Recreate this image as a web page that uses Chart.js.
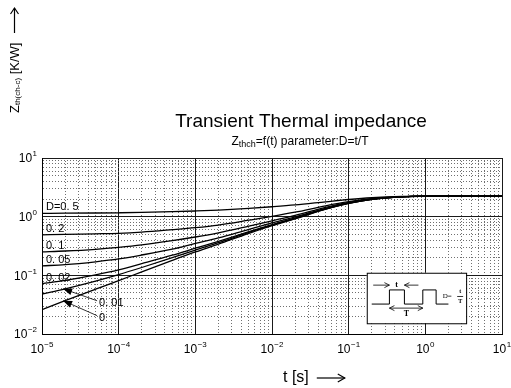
<!DOCTYPE html>
<html>
<head>
<meta charset="utf-8">
<script src="https://cdn.jsdelivr.net/npm/chart.js@4.4.1/dist/chart.umd.min.js"></script>
<style>
html, body { margin: 0; padding: 0; background: #fff; }
</style>
</head>
<body>
<canvas id="zth_chart" width="511" height="388"></canvas>
<script>
// pulse width t [s]
const times = [1e-5, 2e-5, 5e-5, 1e-4, 2e-4, 5e-4, 1e-3, 2e-3, 5e-3, 1e-2, 2e-2, 5e-2, 1e-1, 2e-1, 5e-1, 1, 2, 10];

// Zth(ch-c) [K/W], one array per duty cycle
const zthD05  = [1.14, 1.145, 1.155, 1.165, 1.18, 1.215, 1.25, 1.295, 1.385, 1.475, 1.585, 1.79, 1.96, 2.10, 2.21, 2.24, 2.25, 2.25];
const zthD02  = [0.49, 0.50, 0.51, 0.52, 0.545, 0.60, 0.65, 0.72, 0.87, 1.01, 1.19, 1.53, 1.80, 2.03, 2.19, 2.24, 2.25, 2.25];
const zthD01  = [0.252, 0.26, 0.278, 0.30, 0.33, 0.39, 0.45, 0.53, 0.69, 0.85, 1.05, 1.44, 1.75, 2.00, 2.19, 2.24, 2.25, 2.25];
const zthD005 = [0.145, 0.152, 0.17, 0.19, 0.222, 0.28, 0.35, 0.435, 0.61, 0.78, 0.99, 1.39, 1.72, 1.99, 2.18, 2.24, 2.25, 2.25];
const zthD002 = [0.072, 0.082, 0.102, 0.124, 0.158, 0.22, 0.29, 0.38, 0.555, 0.73, 0.95, 1.36, 1.70, 1.98, 2.18, 2.24, 2.25, 2.25];
const zthD001 = [0.048, 0.059, 0.080, 0.103, 0.136, 0.20, 0.27, 0.36, 0.54, 0.72, 0.93, 1.35, 1.69, 1.97, 2.18, 2.24, 2.25, 2.25];
const zthD0   = [0.026, 0.037, 0.058, 0.081, 0.115, 0.18, 0.25, 0.34, 0.52, 0.70, 0.92, 1.34, 1.68, 1.97, 2.18, 2.24, 2.25, 2.25];

const dutyLabels = ['D=0. 5', '0. 2', '0. 1', '0. 05', '0. 02', '0. 01', '0'];
const dutySeries = [zthD05, zthD02, zthD01, zthD005, zthD002, zthD001, zthD0];

// decade exponents for the tick labels, and the 1..9 steps of the log paper
const xTickExps = [-5, -4, -3, -2, -1, 0, 1];
const yTickExps = [-2, -1, 0, 1];
const minorSteps = [1, 2, 3, 4, 5, 6, 7, 8, 9];

const FONT = '"Liberation Sans", Arial, sans-serif';

function logTicks(exps) {
    const out = [];
    exps.forEach((e, i) => {
        if (i === exps.length - 1) {
            out.push({ value: Math.pow(10, e) });
            return;
        }
        minorSteps.forEach(m => out.push({ value: m * Math.pow(10, e) }));
    });
    return out;
}

function isMajor(v) {
    const l = Math.log10(v);
    return Math.abs(l - Math.round(l)) < 1e-6;
}

const gridOpts = {
    drawTicks: false,
    color: ctx => (ctx.tick && isMajor(ctx.tick.value)) ? '#1a1a1a' : '#6f6f6f',
    lineWidth: 1
};
const borderOpts = {
    display: true,
    color: '#000',
    width: 1,
    dash: ctx => (ctx.tick && !isMajor(ctx.tick.value)) ? [1, 2] : []
};

// "10" with a raised exponent
function drawPow(ctx, x, y, exp, align) {
    ctx.save();
    ctx.textBaseline = 'middle';
    ctx.textAlign = 'left';
    ctx.font = '12px ' + FONT;
    const base = '10';
    const bw = ctx.measureText(base).width;
    ctx.font = '8px ' + FONT;
    const es = exp < 0 ? '\u2212' + Math.abs(exp) : String(exp);
    const ew = ctx.measureText(es).width;
    const total = bw + ew + 0.5;
    let x0 = x;
    if (align === 'center') x0 = x - total / 2;
    if (align === 'right') x0 = x - total;
    ctx.fillStyle = '#000';
    ctx.font = '12px ' + FONT;
    ctx.fillText(base, x0, y);
    ctx.font = '8px ' + FONT;
    ctx.fillText(es, x0 + bw + 0.5, y - 5);
    ctx.restore();
}

function arrowHead(ctx, fromX, fromY, toX, toY, len, half, filled) {
    const a = Math.atan2(toY - fromY, toX - fromX);
    ctx.beginPath();
    ctx.moveTo(toX - len * Math.cos(a) + half * Math.sin(a), toY - len * Math.sin(a) - half * Math.cos(a));
    ctx.lineTo(toX, toY);
    ctx.lineTo(toX - len * Math.cos(a) - half * Math.sin(a), toY - len * Math.sin(a) + half * Math.cos(a));
    if (filled) {
        ctx.closePath();
        ctx.fill();
    } else {
        ctx.stroke();
    }
}

const textPlugin = {
    id: 'zthText',
    afterDraw(chart) {
        const ctx = chart.ctx;
        const area = chart.chartArea;
        const xs = chart.scales.x;
        const ys = chart.scales.y;
        ctx.save();
        ctx.fillStyle = '#000';
        ctx.strokeStyle = '#000';

        // tick labels
        xTickExps.forEach(e => drawPow(ctx, xs.getPixelForValue(Math.pow(10, e)), area.bottom + 16, e, 'center'));
        yTickExps.forEach(e => drawPow(ctx, area.left - 5, ys.getPixelForValue(Math.pow(10, e)) + 1, e, 'right'));

        // title + subtitle
        ctx.textAlign = 'center';
        ctx.textBaseline = 'middle';
        ctx.font = '19px ' + FONT;
        ctx.fillText('Transient Thermal impedance', 301, 122);

        ctx.textAlign = 'left';
        ctx.font = '12px ' + FONT;
        const s1 = 'Z', s3 = '=f(t) parameter:D=t/T';
        const w1 = ctx.measureText(s1).width, w3 = ctx.measureText(s3).width;
        ctx.font = '9px ' + FONT;
        const s2 = 'thch';
        const w2 = ctx.measureText(s2).width;
        let sx = 300 - (w1 + w2 + w3) / 2;
        ctx.font = '12px ' + FONT;
        ctx.fillText(s1, sx, 142);
        ctx.fillStyle = '#000';
        ctx.font = '9px ' + FONT;
        ctx.fillText(s2, sx + w1, 145);
        ctx.font = '12px ' + FONT;
        ctx.fillText(s3, sx + w1 + w2, 142);

        // y axis title, rotated
        ctx.save();
        ctx.translate(15, 113);
        ctx.rotate(-Math.PI / 2);
        ctx.textBaseline = 'middle';
        ctx.font = '13px ' + FONT;
        ctx.fillText('Z', 0, 0);
        let yw = ctx.measureText('Z').width;
        ctx.font = '8px ' + FONT;
        ctx.fillText('th(ch-c)', yw, 3);
        yw += ctx.measureText('th(ch-c)').width;
        ctx.font = '13px ' + FONT;
        ctx.fillText(' [K/W]', yw, 0);
        ctx.restore();

        ctx.lineWidth = 1.2;
        ctx.beginPath();
        ctx.moveTo(14.5, 33);
        ctx.lineTo(14.5, 8);
        ctx.stroke();
        arrowHead(ctx, 14.5, 33, 14.5, 8, 6, 4, false);

        // x axis title
        ctx.font = '16px ' + FONT;
        ctx.textBaseline = 'middle';
        ctx.fillText('t [s]', 283, 378);
        const tw = ctx.measureText('t [s]').width;
        ctx.beginPath();
        ctx.moveTo(283 + tw + 8, 378);
        ctx.lineTo(283 + tw + 36, 378);
        ctx.stroke();
        arrowHead(ctx, 283 + tw + 8, 378, 283 + tw + 36, 378, 7, 4, false);

        // curve labels
        ctx.font = '11px ' + FONT;
        ctx.textBaseline = 'alphabetic';
        for (let i = 0; i < 5; i++) {
            const p = chart.getDatasetMeta(i).data[0];
            ctx.fillText(dutyLabels[i], area.left + 4, p.y - 3);
        }
        ctx.lineWidth = 0.8;
        [5, 6].forEach((i, k) => {
            const p = chart.getDatasetMeta(i).data[1];
            const lx = p.x + 32, ly = p.y + 12 + k * 3;
            ctx.textBaseline = 'middle';
            ctx.fillText(dutyLabels[i], lx + 2, ly + 2);
            ctx.beginPath();
            ctx.moveTo(lx, ly);
            ctx.lineTo(p.x - 2, p.y);
            ctx.stroke();
            arrowHead(ctx, lx, ly, p.x - 2, p.y, 9, 3.5, true);
        });

        // duty cycle inset
        const bx = area.left + 0.706 * (area.right - area.left);
        const bx2 = area.left + 0.922 * (area.right - area.left);
        const by = area.top + 0.652 * (area.bottom - area.top);
        const by2 = area.top + 0.939 * (area.bottom - area.top);
        const bw = bx2 - bx, bh = by2 - by;
        const fx = f => bx + f * bw;
        const fy = f => by + f * bh;
        ctx.fillStyle = '#fff';
        ctx.fillRect(bx, by, bw, bh);
        ctx.fillStyle = '#000';
        ctx.lineWidth = 1;
        ctx.strokeRect(bx + 0.5, by + 0.5, bw, bh);

        ctx.beginPath();
        ctx.moveTo(fx(0.05), fy(0.62));
        ctx.lineTo(fx(0.228), fy(0.62));
        ctx.lineTo(fx(0.228), fy(0.34));
        ctx.lineTo(fx(0.379), fy(0.34));
        ctx.lineTo(fx(0.379), fy(0.62));
        ctx.lineTo(fx(0.564), fy(0.62));
        ctx.lineTo(fx(0.564), fy(0.34));
        ctx.lineTo(fx(0.698), fy(0.34));
        ctx.lineTo(fx(0.698), fy(0.62));
        ctx.lineTo(fx(0.822), fy(0.62));
        ctx.stroke();

        ctx.lineWidth = 0.8;
        ctx.beginPath();
        ctx.moveTo(fx(0.065), fy(0.245));
        ctx.lineTo(fx(0.228), fy(0.245));
        ctx.moveTo(fx(0.52), fy(0.245));
        ctx.lineTo(fx(0.379), fy(0.245));
        ctx.moveTo(fx(0.228), fy(0.70));
        ctx.lineTo(fx(0.564), fy(0.70));
        ctx.stroke();
        arrowHead(ctx, fx(0.065), fy(0.245), fx(0.228), fy(0.245), 5, 2.5, false);
        arrowHead(ctx, fx(0.52), fy(0.245), fx(0.379), fy(0.245), 5, 2.5, false);
        arrowHead(ctx, fx(0.564), fy(0.70), fx(0.228), fy(0.70), 5, 2.5, false);
        arrowHead(ctx, fx(0.228), fy(0.70), fx(0.564), fy(0.70), 5, 2.5, false);

        ctx.font = 'bold 8px "Liberation Serif", serif';
        ctx.textAlign = 'center';
        ctx.textBaseline = 'middle';
        ctx.fillText('t', fx(0.30), fy(0.245));
        ctx.fillText('T', fx(0.40), fy(0.81));
        ctx.font = '7px "Liberation Serif", serif';
        ctx.fillText('D=', fx(0.81), fy(0.47));
        ctx.font = 'bold 6px "Liberation Serif", serif';
        ctx.fillText('t', fx(0.94), fy(0.38));
        ctx.fillText('T', fx(0.94), fy(0.57));
        ctx.beginPath();
        ctx.moveTo(fx(0.91), fy(0.47));
        ctx.lineTo(fx(0.97), fy(0.47));
        ctx.stroke();

        ctx.restore();
    }
};

const zthChart = new Chart(document.getElementById('zth_chart').getContext('2d'), {
    type: 'line',
    data: {
        labels: times,
        datasets: dutySeries.map((vals, i) => ({
            label: dutyLabels[i],
            data: times.map((t, k) => ({ x: t, y: vals[k] })),
            borderColor: '#000',
            borderWidth: 1.3,
            pointRadius: 0,
            fill: false,
            cubicInterpolationMode: 'monotone'
        }))
    },
    options: {
        responsive: false,
        animation: false,
        layout: {
            padding: { left: 42, right: 9, top: 158, bottom: 54 }
        },
        plugins: {
            legend: { display: false },
            title: { display: false },
            tooltip: { enabled: false }
        },
        scales: {
            x: {
                type: 'logarithmic',
                min: 1e-5,
                max: 10,
                afterBuildTicks: scale => { scale.ticks = logTicks(xTickExps); },
                ticks: { display: false },
                grid: gridOpts,
                border: borderOpts
            },
            y: {
                type: 'logarithmic',
                min: 1e-2,
                max: 10,
                afterBuildTicks: scale => { scale.ticks = logTicks(yTickExps); },
                ticks: { display: false },
                grid: gridOpts,
                border: borderOpts
            }
        }
    },
    plugins: [textPlugin]
});
</script>
</body>
</html>
